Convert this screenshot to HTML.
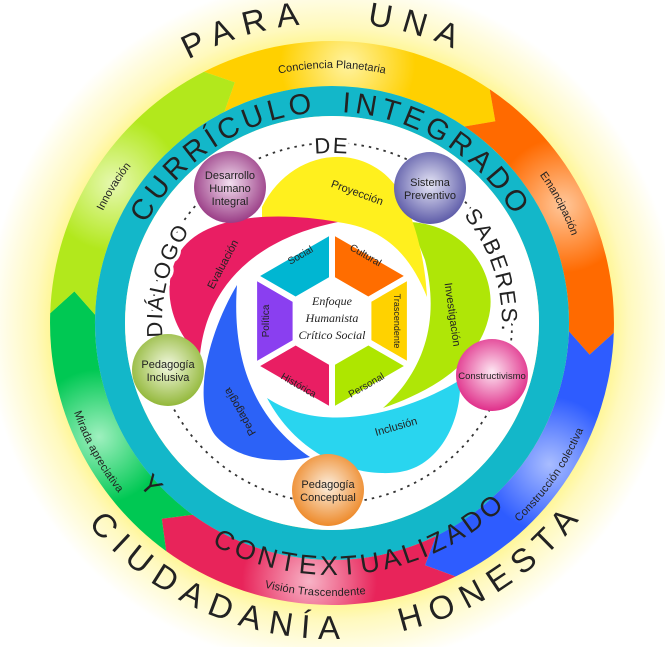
<!DOCTYPE html>
<html><head><meta charset="utf-8">
<style>
html,body{margin:0;padding:0;background:#fff;}
svg{display:block;}
text{font-family:"Liberation Sans",sans-serif;fill:#222;}
</style></head><body>
<svg id="s" width="665" height="647" viewBox="0 0 665 647" xmlns="http://www.w3.org/2000/svg">
<defs>
<radialGradient id="glow" cx="332" cy="323" r="345" gradientUnits="userSpaceOnUse">
<stop offset="0.78" stop-color="#fff47a"/><stop offset="0.86" stop-color="#fff9bd"/><stop offset="1" stop-color="#fff" stop-opacity="1"/>
</radialGradient>
<radialGradient id="b1" cx="0.5" cy="0.45" r="0.55"><stop offset="0" stop-color="#f3dff0"/><stop offset="1" stop-color="#9a3d86"/></radialGradient>
<radialGradient id="b2" cx="0.5" cy="0.45" r="0.55"><stop offset="0" stop-color="#e6e6f6"/><stop offset="1" stop-color="#5d5ba8"/></radialGradient>
<radialGradient id="b3" cx="0.5" cy="0.45" r="0.55"><stop offset="0" stop-color="#fde6f2"/><stop offset="1" stop-color="#e02f8a"/></radialGradient>
<radialGradient id="b4" cx="0.5" cy="0.45" r="0.55"><stop offset="0" stop-color="#fbeede"/><stop offset="1" stop-color="#ee8a2a"/></radialGradient>
<radialGradient id="b5" cx="0.5" cy="0.45" r="0.55"><stop offset="0" stop-color="#f2f8e0"/><stop offset="1" stop-color="#93b83a"/></radialGradient>
<path id="cw300" d="M32,323 A300,300 0 1 1 632,323 A300,300 0 1 1 32,323"/>
<path id="ccw292" d="M40,323 A292,292 0 1 0 624,323 A292,292 0 1 0 40,323"/>
<path id="cw211" d="M121,323 A211,211 0 1 1 543,323 A211,211 0 1 1 121,323"/>
<path id="ccw232" d="M100,323 A232,232 0 1 0 564,323 A232,232 0 1 0 100,323"/>
<path id="cw170b" d="M332,493 A170,170 0 1 1 332,153 A170,170 0 1 1 332,493"/>
<path id="cw255" d="M77,323 A255,255 0 1 1 587,323 A255,255 0 1 1 77,323"/>
<path id="ccw265" d="M67,323 A265,265 0 1 0 597,323 A265,265 0 1 0 67,323"/>
</defs>
<circle cx="332" cy="323" r="345" fill="url(#glow)"/>
<g id="ring"></g>
<circle cx="332" cy="323" r="222" fill="none" stroke="#13b7c9" stroke-width="30"/>
<circle cx="332" cy="323" r="207" fill="#fff"/>
<circle cx="332" cy="323" r="180" fill="none" stroke="#333" stroke-width="1.8" stroke-dasharray="2.5,5"/>

<!-- petals -->
<path d="M410,222 C470,225 500,280 488,320 C475,370 420,395 383,408 C425,370 440,320 425,260 Z" fill="#afe607"/>
<path d="M262,207 C290,150 360,140 395,185 C415,215 425,260 427,297 C410,255 385,228 337,222 L262,217 Z" fill="#fff01e"/>
<path d="M338,222 C270,210 200,216 178,255 C160,290 172,330 200,356 C205,300 240,242 338,222 Z" fill="#e91e63"/>
<path d="M237,285 C210,330 190,400 215,435 C240,465 290,462 310,457 C270,430 230,380 237,285 Z" fill="#2c62f7"/>
<path d="M267,398 C300,460 360,478 400,472 C440,466 462,420 460,380 C420,405 330,440 267,398 Z" fill="#29d5ef"/>

<!-- hexagon -->
<g stroke="#fff" stroke-width="6" stroke-linejoin="miter">
<polygon points="332,231 409.9,276 368.4,300 332,279" fill="#ff6d00"/>
<polygon points="409.9,276 409.9,366 368.4,342 368.4,300" fill="#ffd200"/>
<polygon points="409.9,366 332,411 332,363 368.4,342" fill="#aee600"/>
<polygon points="332,411 254.1,366 295.6,342 332,363" fill="#e91e63"/>
<polygon points="254.1,366 254.1,276 295.6,300 295.6,342" fill="#8a3ff0"/>
<polygon points="254.1,276 332,231 332,279 295.6,300" fill="#00b6d2"/>
</g>
<g font-size="10">
<text transform="translate(302,258) rotate(-30)" text-anchor="middle">Social</text>
<text transform="translate(364,258) rotate(30)" text-anchor="middle">Cultural</text>
<text transform="translate(394,321) rotate(90)" text-anchor="middle" font-size="9">Trascendente</text>
<text transform="translate(368,388) rotate(-30)" text-anchor="middle">Personal</text>
<text transform="translate(297,388) rotate(30)" text-anchor="middle">Histórica</text>
<text transform="translate(269,321) rotate(-90)" text-anchor="middle">Política</text>
</g>
<g font-style="italic" font-size="12" text-anchor="middle">
<text x="332" y="305" style="font-family:'Liberation Serif',serif">Enfoque</text>
<text x="332" y="322" style="font-family:'Liberation Serif',serif">Humanista</text>
<text x="332" y="339" style="font-family:'Liberation Serif',serif">Crítico Social</text>
</g>
<g font-size="11" text-anchor="middle">
<text transform="translate(356,196) rotate(20)">Proyección</text>
<text transform="translate(226,266) rotate(-62)">Evaluación</text>
<text transform="translate(449,315) rotate(82)">Investigación</text>
<text transform="translate(397,430) rotate(-16)">Inclusión</text>
<text transform="translate(243,410) rotate(-120)">Pedagogía</text>
</g>

<!-- DIÁLOGO DE SABERES (masking dots) -->
<g font-size="22" letter-spacing="2" stroke="#fff" stroke-width="7" paint-order="stroke" stroke-linejoin="round">
<text><textPath href="#cw170b" startOffset="29%" text-anchor="middle">DIÁLOGO</textPath></text>
<text><textPath href="#cw170b" startOffset="50%" text-anchor="middle">DE</textPath></text>
<text><textPath href="#cw170b" startOffset="70%" text-anchor="middle">SABERES.</textPath></text>
</g>

<!-- balls -->
<g font-size="11" text-anchor="middle">
<circle cx="230" cy="187" r="36" fill="url(#b1)"/>
<text x="230" y="179">Desarrollo</text><text x="230" y="192">Humano</text><text x="230" y="205">Integral</text>
<circle cx="430" cy="188" r="36" fill="url(#b2)"/>
<text x="430" y="186">Sistema</text><text x="430" y="199">Preventivo</text>
<circle cx="492" cy="375" r="36" fill="url(#b3)"/>
<text x="492" y="379" font-size="9.5">Constructivismo</text>
<circle cx="168" cy="370" r="36" fill="url(#b5)"/>
<text x="168" y="368">Pedagogía</text><text x="168" y="381">Inclusiva</text>
<circle cx="328" cy="490" r="36" fill="url(#b4)"/>
<text x="328" y="488">Pedagogía</text><text x="328" y="501">Conceptual</text>
</g>

<!-- big texts -->
<text font-size="33" letter-spacing="10"><textPath href="#cw300" startOffset="24.6%" text-anchor="middle">PARA&#160;&#160;&#160;UNA</textPath></text>
<text font-size="33" letter-spacing="7" dy="24"><textPath href="#ccw292" startOffset="25.3%" text-anchor="middle">CIUDADANÍA&#160;&#160;&#160;HONESTA</textPath></text>
<text font-size="29" letter-spacing="4.5"><textPath href="#cw211" startOffset="24.8%" text-anchor="middle">CURRÍCULO&#160;&#160;INTEGRADO</textPath></text>
<text font-size="27" letter-spacing="2" dy="20"><textPath href="#ccw232" startOffset="11.7%" text-anchor="middle">Y</textPath></text>
<text font-size="27" letter-spacing="2" dy="20"><textPath href="#ccw232" startOffset="27.1%" text-anchor="middle">CONTEXTUALIZADO</textPath></text>
<g font-size="11">
<text><textPath href="#cw255" startOffset="8.9%" text-anchor="middle">Innovación</textPath></text>
<text><textPath href="#cw255" startOffset="25%" text-anchor="middle">Conciencia Planetaria</textPath></text>
<text><textPath href="#cw255" startOffset="42.3%" text-anchor="middle">Emancipación</textPath></text>
<text dy="8"><textPath href="#ccw265" startOffset="40.3%" text-anchor="middle">Construcción colectiva</textPath></text>
<text dy="8"><textPath href="#ccw265" startOffset="24%" text-anchor="middle">Visión Trascendente</textPath></text>
<text dy="8"><textPath href="#ccw265" startOffset="8%" text-anchor="middle">Mirada apreciativa</textPath></text>
</g>
</svg>
<script>
(function(){
var cx=332,cy=323,ro=282,ri=237,rm=(ro+ri)/2,T=5;
function P(r,a){a=a*Math.PI/180;return (cx+r*Math.cos(a)).toFixed(1)+","+(cy+r*Math.sin(a)).toFixed(1);}
var segs=[[-117,-56,"#ffd000","#fff3a0"],[-56,2,"#ff6a00","#ffc79a"],[2,64,"#2e5cff","#a9bdff"],[64,126,"#e8245a","#f7b3c6"],[126,182,"#00c853","#9ff0bf"],[182,243,"#b2e81c","#e6f8b0"]];
var g=document.getElementById("ring"),ns="http://www.w3.org/2000/svg",defs=document.querySelector("defs");
segs.forEach(function(s,i){
 var a1=s[0],a2=s[1];
 var d="M"+P(ro,a1)+" A"+ro+","+ro+" 0 0 1 "+P(ro,a2)+" L"+P(rm,a2+T)+" L"+P(ri,a2)+" A"+ri+","+ri+" 0 0 0 "+P(ri,a1)+" L"+P(rm,a1+T)+" Z";
 var am=(a1+a2)/2;
 var gr=document.createElementNS(ns,"radialGradient");
 gr.setAttribute("id","sg"+i);gr.setAttribute("gradientUnits","userSpaceOnUse");
 var c=P(rm,am).split(",");gr.setAttribute("cx",c[0]);gr.setAttribute("cy",c[1]);gr.setAttribute("r","150");
 gr.innerHTML='<stop offset="0" stop-color="'+s[3]+'"/><stop offset="0.45" stop-color="'+s[2]+'"/><stop offset="1" stop-color="'+s[2]+'"/>';
 defs.appendChild(gr);
 var p=document.createElementNS(ns,"path");p.setAttribute("d",d);p.setAttribute("fill","url(#sg"+i+")");g.appendChild(p);
});
})();
</script>
</body></html>
